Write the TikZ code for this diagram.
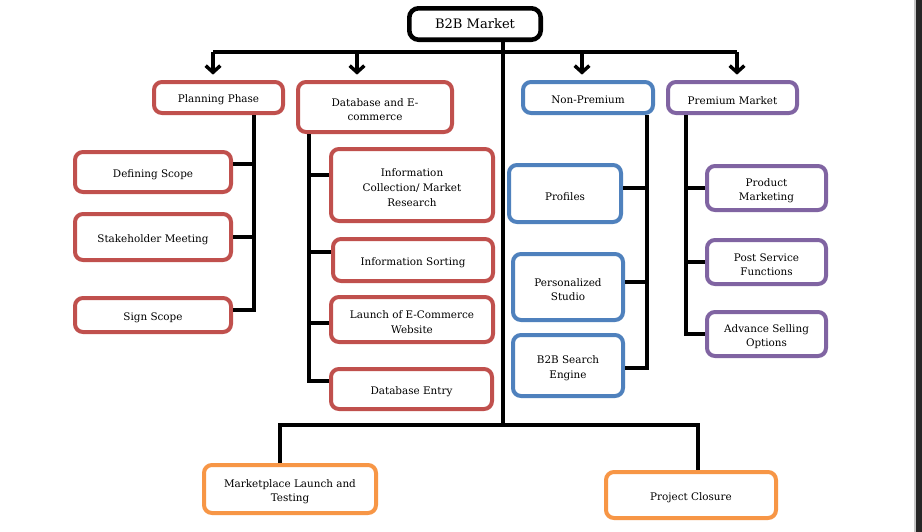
\documentclass[tikz,border=0pt]{standalone}
\usepackage{fontspec}
\setmainfont{DejaVu Serif}
\usetikzlibrary{arrows.meta}
\definecolor{cred}{HTML}{C0504D}
\definecolor{cblue}{HTML}{4F81BD}
\definecolor{cpurple}{HTML}{8064A2}
\definecolor{corange}{HTML}{F79646}
\definecolor{barcol}{HTML}{262626}
\tikzset{
  box/.style={draw, line width=3pt, rounded corners=6pt, fill=white, inner sep=0pt},
  boxtext/.style={align=center, inner sep=1pt, font=\fontsize{7.8}{11}\selectfont},
  conn/.style={line width=2.6pt, black},
  arr/.style={conn, -{Straight Barb[length=5pt,width=11pt]}, shorten >=4pt},
}
\newcommand\bx[7]{\node[box, draw=#2, minimum width={(#5-#3)*0.75pt-3pt},
  minimum height={(#6-#4)*0.75pt-3pt}] (#1) at ({(#3+#5)/2},{(#4+#6)/2}) {};
  \node[boxtext] (#1-t) at ([yshift=-2pt]#1.center) {#7};}
\begin{document}
\begin{tikzpicture}[x=0.75pt,y=-0.75pt]
\fill[white] (0,0) rectangle (922,532);
\useasboundingbox (0,0) rectangle (922,532);
\fill[gray!45] (914,0) rectangle (916,532);
\fill[barcol] (916,0) rectangle (922,532);

% title
\node[draw, line width=3.4pt, rounded corners=7pt, fill=white, font=\fontsize{9.8}{12}\selectfont,
  minimum width={136*0.75pt-3.4pt}, minimum height={36*0.75pt-3.4pt}] (b2b) at (475,24) {B2B Market};

% level 1
\bx{plan}{cred}{152}{80}{285}{115}{Planning Phase}
\bx{db}{cred}{296}{80}{454}{134}{Database and E-\\commerce}
\bx{np}{cblue}{521}{80}{655}{115}{Non-Premium}
\bx{pm}{cpurple}{666}{80}{799}{115}{Premium Market}

% planning children
\bx{ds}{cred}{73}{150}{233}{194}{Defining Scope}
\bx{sm}{cred}{73}{212}{233}{262}{Stakeholder Meeting}
\bx{ss}{cred}{73}{296}{233}{334}{Sign Scope}

% database children
\bx{ic}{cred}{329}{147}{495}{223}{Information\\Collection/ Market\\Research}
\bx{is}{cred}{331}{237}{495}{283}{Information Sorting}
\bx{le}{cred}{329}{295}{495}{344}{Launch of E-Commerce\\Website}
\bx{de}{cred}{329}{367}{494}{411}{Database Entry}

% non-premium children
\bx{pr}{cblue}{507}{163}{623}{224}{Profiles}
\bx{ps}{cblue}{511}{252}{625}{322}{Personalized\\Studio}
\bx{bs}{cblue}{511}{333}{625}{398}{B2B Search\\Engine}

% premium children
\bx{pmk}{cpurple}{705}{164}{828}{212}{Product\\Marketing}
\bx{psf}{cpurple}{705}{238}{828}{286}{Post Service\\Functions}
\bx{asl}{cpurple}{705}{310}{828}{358}{Advance Selling\\Options}

% bottom
\bx{ml}{corange}{202}{463}{378}{515}{Marketplace Launch and\\Testing}
\bx{pc}{corange}{604}{470}{778}{520}{Project Closure}

% top bar and arrows
\coordinate (a1) at (213,52);
\coordinate (a2) at (357,52);
\coordinate (a3) at (582,52);
\coordinate (a4) at (737,52);
\coordinate (mid) at (503,425);
\coordinate (lx) at (280,0);
\coordinate (rx) at (698,0);
\draw[conn] (a1) -- (a4);
\draw[arr] (a1) -- (a1 |- plan.north);
\draw[arr] (a2) -- (a2 |- db.north);
\draw[arr] (a3) -- (a3 |- np.north);
\draw[arr] (a4) -- (a4 |- pm.north);

% central trunk and bottom branches
\draw[conn] (b2b.south -| mid) -- (mid);
\draw[conn] (ml.north -| lx) -- (lx |- mid) -- (rx |- mid) -- (pc.north -| rx);

% spine coordinates
\coordinate (px) at (254,0);
\coordinate (dx) at (309,0);
\coordinate (nx) at (647,0);
\coordinate (mx) at (686,0);

% planning branch
\coordinate (dsc) at ([yshift=6pt]ds.east);
\coordinate (smc) at (sm.east);
\coordinate (ssc) at ([yshift=3.75pt]ss.east);
\draw[conn] (px |- plan.south) -- (px |- ssc) -- (ssc);
\draw[conn] (dsc) -- (px |- dsc);
\draw[conn] (smc) -- (px |- smc);

% database branch
\coordinate (icc) at ([yshift=7.5pt]ic.west);
\coordinate (isc) at ([yshift=6pt]is.west);
\coordinate (lec) at ([yshift=-2.6pt]le.west);
\coordinate (dec) at ([yshift=6pt]de.west);
\draw[conn] (dx |- db.south) -- (dx |- dec) -- (dec);
\draw[conn] (dx |- icc) -- (icc);
\draw[conn] (dx |- isc) -- (isc);
\draw[conn] (dx |- lec) -- (lec);

% non-premium branch
\coordinate (prc) at ([yshift=4pt]pr.east);
\coordinate (psc) at ([yshift=3.75pt]ps.east);
\coordinate (bsc) at ([yshift=-1.9pt]bs.east);
\draw[conn] (nx |- np.south) -- (nx |- bsc) -- (bsc);
\draw[conn] (prc) -- (nx |- prc);
\draw[conn] (psc) -- (nx |- psc);

% premium branch
\coordinate (pmc) at (pmk.west);
\coordinate (pfc) at (psf.west);
\coordinate (asc) at (asl.west);
\draw[conn] (mx |- pm.south) -- (mx |- asc) -- (asc);
\draw[conn] (mx |- pmc) -- (pmc);
\draw[conn] (mx |- pfc) -- (pfc);
\end{tikzpicture}
\end{document}
